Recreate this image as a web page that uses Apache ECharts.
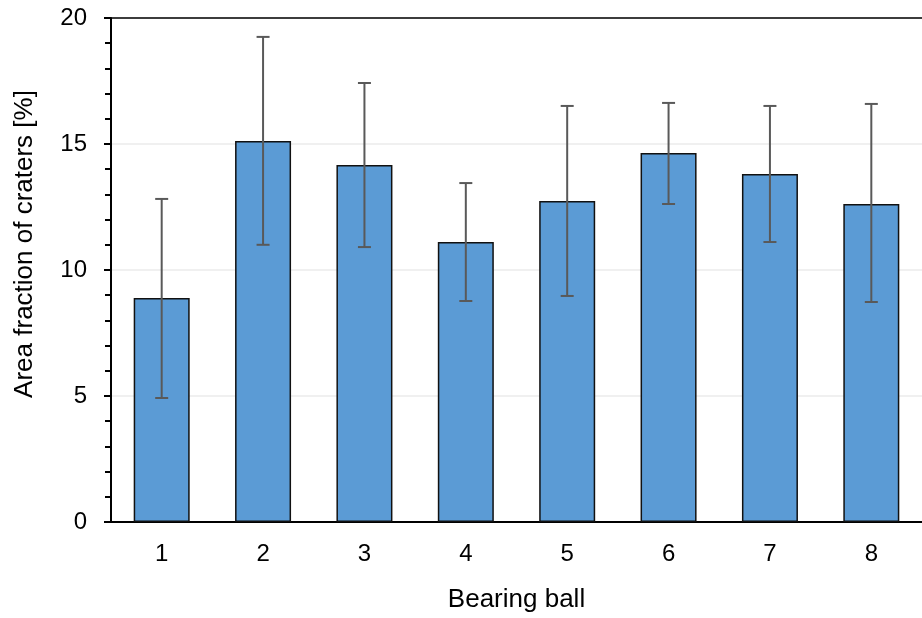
<!DOCTYPE html>
<html><head><meta charset="utf-8">
<script src="https://cdn.jsdelivr.net/npm/echarts@6/dist/echarts.min.js"></script>
<style>html,body{margin:0;padding:0;background:#fff}#c{width:922px;height:618px}</style>
</head><body><div id="c"></div>
<script>
const categories = ['1','2','3','4','5','6','7','8'];
const means = [8.89, 15.12, 14.17, 11.11, 12.74, 14.64, 13.81, 12.62];
const errLow = [4.92, 11.0, 10.91, 8.77, 8.97, 12.62, 11.11, 8.73];
const errHigh = [12.82, 19.25, 17.42, 13.45, 16.51, 16.63, 16.51, 16.59];
const xTitle = 'Bearing ball';
const yTitle = 'Area fraction of craters [%]';

const chart = echarts.init(document.getElementById('c'));
const font = 'Liberation Sans, Arial, sans-serif';
chart.setOption({
  animation: false,
  grid: {left: 111, top: 18, right: 0, bottom: 96},
  graphic: [{
    type: 'text', x: 25, y: 244, rotation: Math.PI / 2,
    style: {text: yTitle, font: '26px ' + font, fill: '#000', align: 'center', verticalAlign: 'middle'}
  }],
  xAxis: [{
    type: 'category', data: categories,
    name: xTitle, nameLocation: 'middle', nameGap: 65,
    nameTextStyle: {fontFamily: font, fontSize: 26, color: '#000'},
    axisLine: {lineStyle: {color: '#000', width: 2}},
    axisTick: {show: false},
    axisLabel: {fontFamily: font, fontSize: 24, color: '#000', margin: 20}
  }, {
    type: 'category', data: categories, position: 'top',
    axisLine: {show: true, lineStyle: {color: '#000', width: 1.5}},
    axisTick: {show: false}, axisLabel: {show: false}
  }],
  yAxis: {
    type: 'value', min: 0, max: 20, interval: 5,
    axisLine: {show: true, lineStyle: {color: '#000', width: 2}},
    axisTick: {show: true, length: 7, lineStyle: {color: '#000', width: 2}},
    minorTick: {show: true, splitNumber: 5, length: 6, lineStyle: {color: '#000', width: 2}},
    splitLine: {show: true, lineStyle: {color: '#ebebeb', width: 1.5}},
    axisLabel: {fontFamily: font, fontSize: 24, color: '#000', margin: 24}
  },
  series: [{
    type: 'bar', data: means, barWidth: 56,
    itemStyle: {color: '#5B9BD5', borderColor: '#111', borderWidth: 1.5}
  }, {
    type: 'custom',
    data: categories.map((c, i) => [i, errLow[i], errHigh[i]]),
    renderItem: function (params, api) {
      const x = api.value(0);
      const lo = api.coord([x, api.value(1)]);
      const hi = api.coord([x, api.value(2)]);
      const hw = 6.5;
      const style = {stroke: '#595959', lineWidth: 2};
      return {type: 'group', children: [
        {type: 'line', shape: {x1: hi[0], y1: hi[1], x2: lo[0], y2: lo[1]}, style: style},
        {type: 'line', shape: {x1: hi[0]-hw, y1: hi[1], x2: hi[0]+hw, y2: hi[1]}, style: style},
        {type: 'line', shape: {x1: lo[0]-hw, y1: lo[1], x2: lo[0]+hw, y2: lo[1]}, style: style}
      ]};
    },
    z: 5
  }]
});
</script></body></html>
